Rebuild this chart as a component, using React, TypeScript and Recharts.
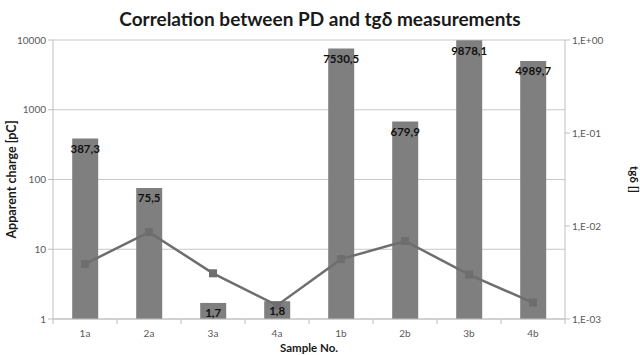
import {
  ComposedChart,
  Bar,
  Line,
  XAxis,
  YAxis,
  CartesianGrid,
  LabelList,
} from "recharts";

const SAMPLES = ["1a", "2a", "3a", "4a", "1b", "2b", "3b", "4b"];
const CHARGE_PC = [387.3, 75.5, 1.7, 1.8, 7530.5, 679.9, 9878.1, 4989.7];
const TG_DELTA = [0.0039, 0.0086, 0.0031, 0.0014, 0.0044, 0.0069, 0.003, 0.0015];
const LEFT_TICKS = [1, 10, 100, 1000, 10000];
const RIGHT_TICKS = [0.001, 0.01, 0.1, 1];

const data = SAMPLES.map((s, i) => ({
  sample: s,
  charge: CHARGE_PC[i],
  tg: TG_DELTA[i],
}));

const FONT = "Lato, 'Open Sans', sans-serif";
const BAR = "#7f7f7f";
const LINE = "#6e6e6e";
const GRID = "#c8c8c8";
const AXIS = "#bfbfbf";
const TICK_INK = "#595959";

const fmtComma = (v: unknown) => String(v).replace(".", ",");

const fmtExp = (v: number) => {
  const e = Math.round(Math.log10(v));
  const sign = e >= 0 ? "+" : "-";
  return `1,E${sign}${String(Math.abs(e)).padStart(2, "0")}`;
};

function SampleTick(props: any) {
  const { x, y, payload, index } = props;
  const half = payload?.offset ?? 32;
  return (
    <g>
      <line x1={x + half} x2={x + half} y1={y - 8} y2={y - 3} stroke={AXIS} />
      {index === 0 && (
        <line x1={x - half} x2={x - half} y1={y - 8} y2={y - 3} stroke={AXIS} />
      )}
      <text
        x={x}
        y={y + 10}
        textAnchor="middle"
        fill={TICK_INK}
        fontSize={10}
        fontFamily={FONT}
      >
        {payload.value}
      </text>
    </g>
  );
}

export default function App() {
  return (
    <div
      style={{
        position: "absolute",
        left: 0,
        top: 0,
        width: 640,
        height: 355,
        background: "#fff",
        fontFamily: FONT,
      }}
    >
      <div
        style={{
          position: "absolute",
          left: 0,
          top: 7,
          width: 640,
          textAlign: "center",
          fontSize: 19,
          fontWeight: 700,
          color: "#1a1a1a",
        }}
      >
        Correlation between PD and tgδ measurements
      </div>
      <ComposedChart
        width={640}
        height={355}
        data={data}
        margin={{ top: 40, right: 0, bottom: 0, left: 0 }}
        barCategoryGap="30%"
      >
        <CartesianGrid stroke={GRID} vertical={false} yAxisId="left" />
        <XAxis
          dataKey="sample"
          height={36}
          axisLine={{ stroke: AXIS }}
          tickLine={false}
          tick={<SampleTick />}
          interval={0}
          label={{
            value: "Sample No.",
            position: "insideBottom",
            offset: 3,
            fill: "#1a1a1a",
            fontSize: 11.5,
            fontWeight: 700,
          }}
        />
        <YAxis
          yAxisId="left"
          scale="log"
          domain={[1, 10000]}
          ticks={LEFT_TICKS}
          allowDataOverflow
          width={53}
          axisLine={{ stroke: AXIS }}
          tickLine={{ stroke: AXIS }}
          tickSize={5}
          tick={{ fill: TICK_INK, fontSize: 10 }}
          label={{
            value: "Apparent charge [pC]",
            angle: -90,
            position: "insideLeft",
            offset: 12,
            style: { textAnchor: "middle" },
            fill: "#1a1a1a",
            fontSize: 12.5,
            fontWeight: 700,
          }}
        />
        <YAxis
          yAxisId="right"
          orientation="right"
          scale="log"
          domain={[0.001, 1]}
          ticks={RIGHT_TICKS}
          allowDataOverflow
          width={75}
          axisLine={{ stroke: AXIS }}
          tickLine={{ stroke: AXIS }}
          tickSize={5}
          tickFormatter={fmtExp}
          tick={{ fill: TICK_INK, fontSize: 10 }}
          label={{
            value: "tgδ []",
            angle: 90,
            position: "insideRight",
            offset: 6,
            style: { textAnchor: "middle" },
            fill: "#1a1a1a",
            fontSize: 11.5,
            fontWeight: 700,
          }}
        />
        <Bar
          yAxisId="left"
          dataKey="charge"
          fill={BAR}
          isAnimationActive={false}
        >
          <LabelList
            dataKey="charge"
            position="insideTop"
            offset={6}
            formatter={fmtComma}
            fill="#111"
            fontSize={11.5}
            fontWeight={700}
          />
        </Bar>
        <Line
          yAxisId="right"
          dataKey="tg"
          stroke={LINE}
          strokeWidth={2.5}
          isAnimationActive={false}
          dot={(p: any) => (
            <rect
              key={`d${p.index}`}
              x={p.cx - 4}
              y={p.cy - 4}
              width={8}
              height={8}
              fill={LINE}
            />
          )}
        />
      </ComposedChart>
    </div>
  );
}
